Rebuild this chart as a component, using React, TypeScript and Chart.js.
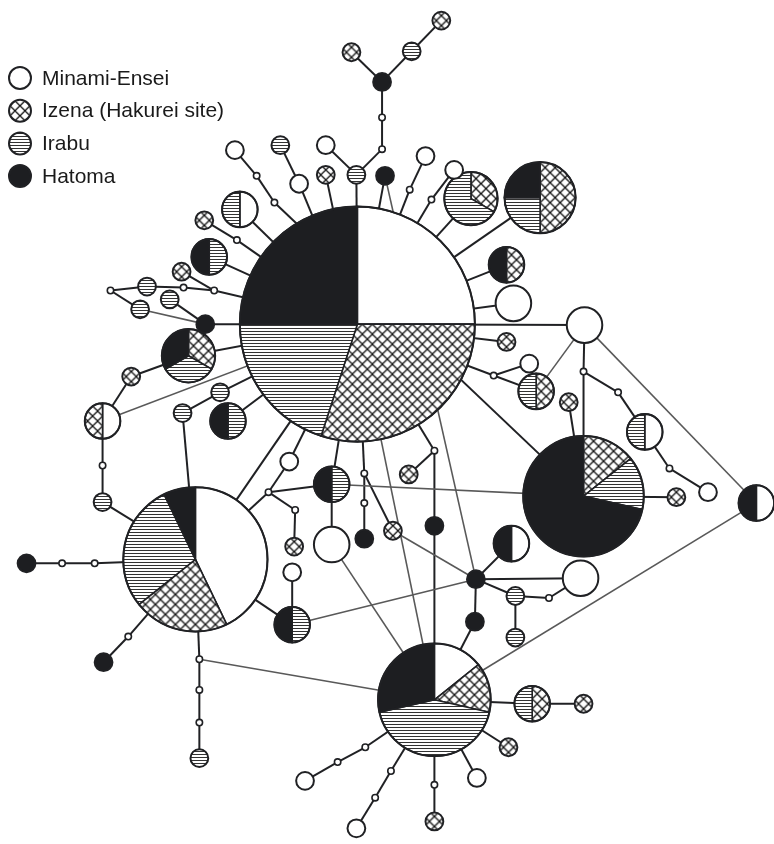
import { useEffect, useRef } from "react";
import { Chart, registerables } from "chart.js";
Chart.register(...registerables);

// ---------- data ----------
const categories = ["Minami-Ensei", "Izena (Hakurei site)", "Irabu", "Hatoma"];

// individuals per haplotype and locality (only non-zero entries)
const countMinami: Record<string, number> = {
  A: 5, E: 6, K: 1, P1: 1, D: 1, F: 2, W517: 2, I: 1, J: 1, Wm: 2, O: 1, P: 2,
  W1: 1, W2: 1, W3: 1, W4: 1, W5: 1, W6: 1, W7: 1, W8: 1, W9: 1, W10: 1, W11: 1, W12: 1,
};
const countIzena: Record<string, number> = {
  A: 6, E: 3, H: 1, K: 1, TR: 2, B: 1, C: 1, D: 1, R: 1, G: 1, L: 1,
  X1: 1, X2: 1, X3: 1, X4: 1, X5: 1, X6: 1, X7: 1, X8: 1, X9: 1, X10: 1, X11: 1, X12: 1, X13: 1, X14: 1, X15: 1,
};
const countIrabu: Record<string, number> = {
  A: 4, E: 4, H: 1, K: 3, TR: 1, B: 2, C: 1, P1: 1, P2: 1, Q: 1, G: 1, I: 1, M: 1, N: 1, L: 1,
  Ir1: 1, Ir2: 1, Ir3: 1, Ir4: 1, Ir5: 1, Ir6: 1, Ir7: 1, Ir8: 1, Ir9: 1, Ir10: 1, Ir11: 1, Ir12: 1,
};
const countHatoma: Record<string, number> = {
  A: 5, E: 1, H: 5, K: 2, TR: 1, C: 1, P2: 1, Q: 1, R: 1, J: 1, M: 1, N: 1, O: 1,
  Ha1: 1, Ha2: 1, Ha3: 1, Ha4: 1, Ha5: 1, Ha6: 1, Ha7: 1, Ha8: 1, Ha9: 1,
};

// network layout (plot units)
const hapPos: Record<string, [number, number]> = {
  A: [357, 323], E: [193, 561], H: [586, 497], K: [435, 703], TR: [542, 195], B: [472, 196], C: [186, 355],
  P1: [238, 207], P2: [207, 255], D: [99, 421], Q: [226, 421], R: [508, 263], F: [587, 324], W517: [515, 302],
  G: [538, 391], I: [648, 432], J: [761, 504], M: [331, 485], Wm: [331, 546], N: [291, 627], O: [513, 545],
  P: [583, 580], L: [534, 707],
  X1: [351, 48], Ir1: [412, 47], X2: [442, 16], Ha1: [382, 78], W1: [325, 142], Ir2: [279, 142], W2: [298, 181],
  X3: [325, 172], Ir3: [356, 172], Ha2: [385, 173], W3: [426, 153], W4: [455, 167], W5: [233, 147],
  X4: [202, 218], X5: [179, 270], Ir4: [144, 285], Ir5: [137, 308], Ir6: [167, 298], Ha3: [203, 323],
  X6: [128, 376], Ir7: [218, 392], Ir8: [180, 413], Ir9: [99, 503], Ha4: [22, 565], Ha5: [100, 665],
  Ir10: [197, 762], X7: [508, 341], W6: [531, 363], X8: [571, 402], X9: [680, 498], W7: [712, 493],
  W8: [288, 462], X10: [293, 548], W9: [291, 574], Ha6: [364, 540], X11: [393, 532], X12: [409, 475],
  Ha7: [435, 527], Ha8: [477, 581], Ir11: [517, 598], Ir12: [517, 640], Ha9: [476, 624],
  W10: [304, 785], W11: [356, 833], X13: [435, 826], W12: [478, 782], X14: [510, 751], X15: [586, 707],
};
const bigNodeRadius: Record<string, number> = { A: 119, E: 73, H: 61, K: 57 };
const nodeUnit = 9;

const medianPos: Record<string, [number, number]> = {
  m1: [382, 114], m2: [382, 146], m3: [255, 173], m4: [273, 200], m5: [410, 187], m6: [432, 197],
  m7: [235, 238], m8: [107, 289], m9: [181, 286], m10: [212, 289], m11: [99, 466], m12: [58, 565],
  m13: [91, 565], m14: [125, 639], m15: [197, 662], m16: [197, 693], m17: [197, 726], m18: [267, 493],
  m19: [294, 511], m20: [364, 474], m21: [364, 504], m22: [435, 451], m23: [495, 375], m24: [586, 371],
  m25: [621, 392], m26: [673, 469], m27: [551, 600], m28: [337, 766], m29: [365, 751], m30: [375, 802],
  m31: [391, 775], m32: [435, 789],
};

const edgesDark = [
  "Ha1-X1", "Ha1-Ir1", "Ir1-X2", "Ha1-m1", "m1-m2", "m2-Ir3", "Ir3-W1", "Ir3-A", "X3-A", "Ha2-A",
  "Ir2-W2", "W2-A", "W5-m3", "m3-m4", "W3-m5", "m5-A", "W4-m6", "m6-A", "B-A", "TR-A", "P1-A",
  "X4-m7", "m7-A", "P2-A", "m8-Ir4", "Ir4-m9", "m9-m10", "m10-A", "X5-m10", "m8-Ir5", "Ir6-Ha3",
  "Ha3-A", "C-A", "C-X6", "X6-D", "D-m11", "m11-Ir9", "Ir9-E", "Ha4-m12", "m12-m13", "m13-E",
  "Ir7-A", "Ir7-Ir8", "Ir8-E", "Q-A", "E-m14", "m14-Ha5", "E-m15", "m15-m16", "m16-m17", "m17-Ir10",
  "R-A", "W517-A", "A-F", "X7-A", "A-m23", "m23-W6", "m23-G", "X8-H", "F-m24", "m24-H", "m24-m25",
  "m25-I", "I-m26", "m26-W7", "H-X9", "W8-A", "W8-m18", "m18-M", "m18-m19", "m19-X10", "m18-E",
  "M-A", "M-Wm", "W9-N", "E-N", "A-m20", "m20-m21", "m21-Ha6", "m20-X11", "X12-m22", "A-m22",
  "m22-Ha7", "Ha7-K", "Ha8-O", "Ha8-P", "Ha8-Ir11", "Ir11-m27", "m27-P", "Ir11-Ir12", "Ha8-Ha9",
  "Ha9-K", "K-m29", "m29-m28", "m28-W10", "K-m31", "m31-m30", "m30-W11", "K-m32", "m32-X13",
  "K-W12", "K-X14", "K-L", "L-X15", "A-E", "m4-H",
];
const edgesGray = [
  "D-A", "Ir5-Ha3", "G-F", "F-J", "J-K", "N-Ha8", "m15-K", "A-K", "Ha2-Ha8", "X11-Ha8", "Wm-K", "M-H",
];

// ---------- styles ----------
const INK = "#202124";
const GRAY = "#595959";
const HATOMA_FILL = "#1d1e21";
const CROSS_TILE = 10;

function allPos(name: string): [number, number] {
  return hapPos[name] || medianPos[name];
}

function edgeDataset(e: string, color: string, width: number) {
  const [a, b] = e.split("-");
  const pa = allPos(a), pb = allPos(b);
  return {
    data: [{ x: pa[0], y: pa[1] }, { x: pb[0], y: pb[1] }],
    showLine: true,
    borderColor: color,
    borderWidth: width,
    pointRadius: 0,
    pointHoverRadius: 0,
    order: 5,
  };
}

function makeHatch(ctx: CanvasRenderingContext2D) {
  const c = document.createElement("canvas");
  c.width = 6; c.height = 3;
  const g = c.getContext("2d")!;
  g.fillStyle = "#fff"; g.fillRect(0, 0, 6, 3);
  g.fillStyle = "#333333"; g.fillRect(0, 1, 6, 1);
  return ctx.createPattern(c, "repeat")!;
}
function makeCross(ctx: CanvasRenderingContext2D) {
  const T = CROSS_TILE;
  const c = document.createElement("canvas");
  c.width = T; c.height = T;
  const g = c.getContext("2d")!;
  g.fillStyle = "#fff"; g.fillRect(0, 0, T, T);
  g.strokeStyle = "#161616"; g.lineWidth = 1.25;
  for (const dx of [-T, 0, T]) {
    g.beginPath(); g.moveTo(dx, 0); g.lineTo(dx + T, T); g.stroke();
    g.beginPath(); g.moveTo(dx + T, 0); g.lineTo(dx, T); g.stroke();
  }
  return ctx.createPattern(c, "repeat")!;
}

function drawPie(ctx: CanvasRenderingContext2D, cx: number, cy: number, r: number, counts: number[], pats: any) {
  const total = counts.reduce((s, v) => s + v, 0);
  const parts = counts.map((v, k) => ({ v, k })).filter((p) => p.v > 0);
  ctx.save();
  ctx.beginPath(); ctx.arc(cx, cy, r, 0, Math.PI * 2); ctx.fillStyle = "#fff"; ctx.fill();
  let a = -Math.PI / 2;
  for (const p of parts) {
    const a2 = a + (p.v / total) * Math.PI * 2;
    ctx.beginPath();
    if (parts.length > 1) ctx.moveTo(cx, cy);
    ctx.arc(cx, cy, r, a, a2);
    ctx.closePath();
    let fill: any = "#fff";
    if (p.k === 3) fill = HATOMA_FILL;
    if (p.k === 2) fill = pats.hatch;
    if (p.k === 1) {
      // centre of the node sits in the middle of a diamond cell
      pats.cross.setTransform(new DOMMatrix([1, 0, 0, 1, cx - CROSS_TILE / 2, cy]));
      fill = pats.cross;
    }
    ctx.fillStyle = fill;
    ctx.fill();
    if (parts.length > 1) {
      ctx.strokeStyle = INK; ctx.lineWidth = 1.6; ctx.stroke();
    }
    a = a2;
  }
  ctx.beginPath(); ctx.arc(cx, cy, r, 0, Math.PI * 2);
  ctx.strokeStyle = INK; ctx.lineWidth = 2; ctx.stroke();
  ctx.restore();
}

const networkPlugin = {
  id: "network",
  afterDatasetsDraw(chart: any) {
    const ctx: CanvasRenderingContext2D = chart.ctx;
    const xs = chart.scales.x, ys = chart.scales.y;
    const pats = { hatch: makeHatch(ctx), cross: makeCross(ctx) };
    const counts = (n: string) => [countMinami[n] || 0, countIzena[n] || 0, countIrabu[n] || 0, countHatoma[n] || 0];
    for (const name of Object.keys(hapPos)) {
      const [x, y] = hapPos[name];
      const c = counts(name);
      const tot = c.reduce((s, v) => s + v, 0);
      const rU = bigNodeRadius[name] ?? nodeUnit * tot;
      const px = xs.getPixelForValue(x), py = ys.getPixelForValue(y);
      const pr = Math.abs(xs.getPixelForValue(x + rU) - px);
      drawPie(ctx, px, py, pr, c, pats);
    }
    // legend
    ctx.save();
    ctx.font = '21px "Liberation Sans", Arial, sans-serif';
    ctx.textBaseline = "middle";
    categories.forEach((cat, i) => {
      const cy = 78 + i * 32.7;
      const oh = [0, 0, 0, 0]; oh[i] = 1;
      drawPie(ctx, 20, cy, 11, oh, pats);
      ctx.fillStyle = "#1a1a1a";
      ctx.fillText(cat, 42, cy + 1);
    });
    ctx.restore();
  },
};

export default function App() {
  const ref = useRef<HTMLCanvasElement>(null);
  useEffect(() => {
    document.body.style.margin = "0";
    const medPts = Object.keys(medianPos).map((k) => ({ x: medianPos[k][0], y: medianPos[k][1] }));
    const datasets: any[] = [
      {
        data: medPts,
        pointRadius: 3.2,
        pointHoverRadius: 3.2,
        pointBackgroundColor: "#fff",
        pointBorderColor: INK,
        pointBorderWidth: 1.6,
        order: 0,
      },
      ...edgesGray.map((e) => edgeDataset(e, GRAY, 1.6)),
      ...edgesDark.map((e) => edgeDataset(e, INK, 2)),
    ];
    const chart = new Chart(ref.current!, {
      type: "scatter",
      data: { datasets },
      options: {
        animation: false,
        responsive: false,
        events: [],
        layout: { padding: 0 },
        scales: {
          x: { type: "linear", min: 0, max: 774, display: false },
          y: { type: "linear", min: 0, max: 844, reverse: true, display: false },
        },
        plugins: { legend: { display: false }, tooltip: { enabled: false } },
      },
      plugins: [networkPlugin],
    });
    return () => chart.destroy();
  }, []);
  return (
    <div style={{ width: 774, height: 844, background: "#fff" }}>
      <canvas ref={ref} width={774} height={844} style={{ display: "block" }} />
    </div>
  );
}
